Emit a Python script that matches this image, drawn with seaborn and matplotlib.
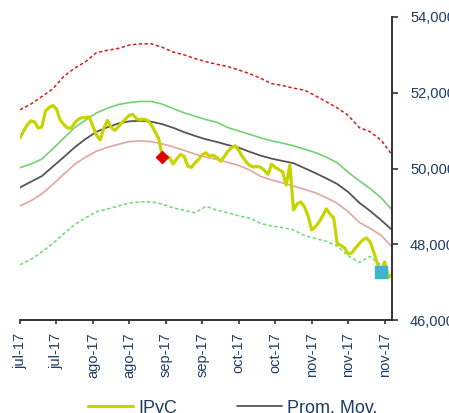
import pandas as pd
import matplotlib
matplotlib.use("Agg")
import matplotlib.pyplot as plt
import seaborn as sns

# IPyC daily close (index = trading day)
ipyc = [50807, 50992, 51150, 51256, 51230, 51071, 51098, 51520, 51610, 51665,
        51573, 51282, 51161, 51071, 51063, 51203, 51298, 51340, 51350, 51361,
        51108, 50873, 50755, 51071, 51269, 51090, 51003, 51108, 51216, 51311,
        51409, 51422, 51309, 51293, 51303, 51267, 51150, 50979, 50800, 50350,
        50330, 50285, 50121, 50253, 50369, 50322, 50069, 50029, 50150, 50245,
        50367, 50412, 50322, 50351, 50290, 50193, 50311, 50454, 50551, 50599,
        50475, 50309, 50177, 50079, 50040, 50055, 50029, 49953, 49847, 50114,
        50029, 49974, 49913, 49567, 50095, 48908, 49066, 49119, 48987, 48749,
        48380, 48459, 48591, 48749, 48934, 48802, 48697, 48019, 47971, 47905,
        47747, 47773, 47905, 48011, 48116, 48169, 48063, 47800, 47483, 47298,
        47536, 47114, 47219]

# bands sampled every 3 trading days
band_idx = list(range(0, 103, 3))
prom_mov = [49500, 49650, 49800, 50050, 50300, 50560, 50780, 50970, 51090, 51190,
            51245, 51260, 51235, 51170, 51075, 50960, 50860, 50770, 50700, 50620,
            50550, 50440, 50340, 50260, 50200, 50140, 50010, 49880, 49740, 49590,
            49380, 49100, 48880, 48640, 48380]
banda_sup = [50020, 50120, 50250, 50520, 50800, 51080, 51280, 51470, 51590, 51690,
             51740, 51770, 51770, 51700, 51580, 51470, 51380, 51290, 51220, 51080,
             50990, 50900, 50810, 50730, 50670, 50600, 50510, 50420, 50300, 50150,
             49900, 49680, 49470, 49230, 48910]
banda_inf = [49010, 49150, 49330, 49580, 49850, 50110, 50300, 50460, 50560, 50640,
             50710, 50730, 50710, 50650, 50570, 50480, 50380, 50300, 50240, 50160,
             50080, 49960, 49790, 49700, 49620, 49540, 49450, 49360, 49230, 49080,
             48860, 48580, 48420, 48240, 47930]
banda_sup2 = [51550, 51700, 51900, 52100, 52430, 52650, 52820, 53060, 53120, 53170,
              53260, 53290, 53290, 53200, 53070, 53000, 52900, 52820, 52750, 52690,
              52600, 52500, 52380, 52240, 52190, 52120, 52070, 51920, 51760, 51600,
              51400, 51080, 50970, 50750, 50360]
banda_inf2 = [47460, 47600, 47800, 48020, 48280, 48520, 48700, 48860, 48930, 49010,
              49090, 49120, 49120, 49060, 48960, 48900, 48830, 49000, 48900, 48830,
              48750, 48690, 48550, 48480, 48440, 48380, 48230, 48150, 48080, 47950,
              47700, 47520, 47680, 47450]

tick_pos = list(range(0, 101, 10))
tick_labels = ['jul-17', 'jul-17', 'ago-17', 'ago-17', 'sep-17', 'sep-17',
               'oct-17', 'oct-17', 'nov-17', 'nov-17', 'nov-17']

# highlighted points
diamond_idx, diamond_val = [39], [50300]
square_idx, square_val = [99], [47280]

navy = '#1f3d64'

sns.set_style('white')
plt.rcParams['font.family'] = ['Liberation Sans', 'DejaVu Sans']

fig = plt.figure(figsize=(4.49, 4.13), dpi=100)
ax = fig.add_axes([0.0445, 0.225, 0.8285, 0.734])

df_ipyc = pd.DataFrame({'x': range(len(ipyc)), 'v': ipyc})
df_band = pd.DataFrame({'x': band_idx, 'mov': prom_mov, 'sup': banda_sup,
                        'inf': banda_inf, 'sup2': banda_sup2})
df_inf2 = pd.DataFrame({'x': band_idx[:len(banda_inf2)], 'v': banda_inf2})

sns.lineplot(data=df_band, x='x', y='sup2', ax=ax, color='#d42020', lw=1.1,
             linestyle=(0, (2.2, 1.6)))
sns.lineplot(data=df_inf2, x='x', y='v', ax=ax, color='#70d870', lw=1.1,
             linestyle=(0, (2.2, 1.6)))
sns.lineplot(data=df_band, x='x', y='sup', ax=ax, color='#74d074', lw=1.2)
sns.lineplot(data=df_band, x='x', y='inf', ax=ax, color='#e4a4a0', lw=1.2)
sns.lineplot(data=df_band, x='x', y='mov', ax=ax, color='#555555', lw=1.3,
             label='Prom. Mov.')
sns.lineplot(data=df_ipyc, x='x', y='v', ax=ax, color='#c6d400', lw=2.3,
             label='IPyC')
ax.plot(diamond_idx, diamond_val, marker='D', ms=6, color='#e00000', ls='none')
ax.plot(square_idx, square_val, marker='s', ms=9, color='#40b4cc', ls='none')

ax.set_xlim(0, 102)
ax.set_ylim(46000, 54000)
ax.set_xticks(tick_pos)
ax.set_xticklabels(tick_labels, rotation=90)
ax.set_yticks(range(46000, 54001, 2000))
ax.set_yticklabels([f'{v:,}' for v in range(46000, 54001, 2000)])
ax.yaxis.tick_right()
ax.set_xlabel('')
ax.set_ylabel('')

for s in ['top', 'left']:
    ax.spines[s].set_visible(False)
for s in ['bottom', 'right']:
    ax.spines[s].set_color('#333333')
    ax.spines[s].set_linewidth(1.4)
ax.tick_params(axis='x', direction='out', length=3, width=1.2, color='#333333',
               labelsize=10.5, labelcolor=navy, pad=6, bottom=True)
ax.tick_params(axis='y', direction='out', length=4, width=1.2, color='#333333',
               labelsize=10.5, labelcolor=navy, pad=9, right=True, left=False)

ax.get_legend().remove()
h, l = ax.get_legend_handles_labels()
order = [l.index('IPyC'), l.index('Prom. Mov.')]
fig.legend([h[i] for i in order], [l[i] for i in order], loc='center left',
           bbox_to_anchor=(0.175, 0.012), ncol=2, frameon=False, fontsize=13,
           handlelength=2.5, handletextpad=0.3, columnspacing=3.3,
           borderpad=0, labelcolor=navy)

fig.savefig('out.png', dpi=100)
